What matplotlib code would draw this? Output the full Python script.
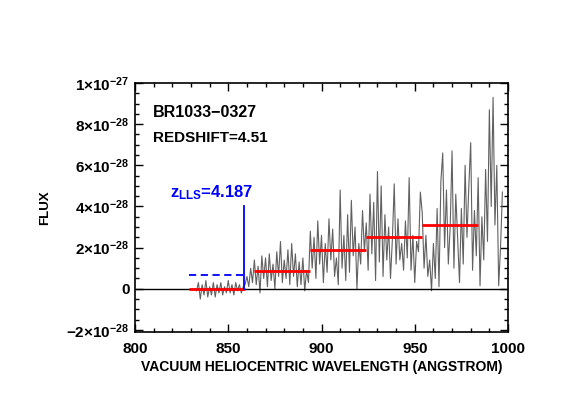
import numpy as np
import matplotlib
matplotlib.use("Agg")
import matplotlib.pyplot as plt
from matplotlib.ticker import MultipleLocator, FixedLocator

plt.rcParams['font.family'] = ['Liberation Sans', 'DejaVu Sans']
plt.rcParams['font.weight'] = 'bold'
plt.rcParams['mathtext.fontset'] = 'custom'
plt.rcParams['mathtext.rm'] = 'Liberation Sans:bold'
plt.rcParams['mathtext.bf'] = 'Liberation Sans:bold'
plt.rcParams['mathtext.default'] = 'bf'

# Spectrum (wavelength in Angstrom, flux in units of 1e-28)
wave_start = 833
flux_e28 = [
    -0.1, 0.3, -0.5, 0.2, -0.3, 0.4, -0.4, 0.1, -0.3, 0.3,      # 833-842
    -0.4, 0.2, -0.2, 0.3, -0.3, 0.1, -0.2, 0.4, -0.2, 0.2,      # 843-852
    -0.3, 0.3, -0.1, 0.2, -0.2, 0.1,                            # 853-858
    0.2, 0.6, 0.1, 1.0, 0.3, 1.4, 0.2, 1.1, -0.2, 1.6,          # 859-868
    0.5, 1.5, 0.1, 1.7, 0.4, 1.2, 0.0, 1.8, 0.6, 2.3,           # 869-878
    0.3, 1.4, 0.5, 1.9, 0.2, 2.2, 0.6, 1.7, 0.1, 1.3,           # 879-888
    0.2, 1.5, -0.1, 0.9, 0.3, 2.8, 1.0, 2.5, 0.5, 3.3,          # 889-898
    1.2, 2.6, 0.3, 2.2, 0.8, 3.4, 1.4, 2.9, 0.6, 1.5,           # 899-908
    0.2, 4.8, 1.0, 2.6, 0.4, 3.6, 0.8, 4.3, 1.6, 3.0,           # 909-918
    0.0, 2.2, 1.2, 3.8, 1.8, 3.2, 0.9, 4.6, 1.7, 4.2,           # 919-928
    0.4, 5.7, 1.3, 5.0, 0.6, 3.6, 1.4, 3.0, 0.5, 2.4,           # 929-938
    5.1, 1.2, 3.4, 1.4, 2.2, 0.9, 3.3, 1.5, 5.4, 0.9,           # 939-948
    2.6, 0.3, 2.3, 1.8, 4.7, 3.7, 1.0, 2.6, 0.6, 1.4,           # 949-958
    -0.1, 2.2, 0.5, 3.9, 0.1, 5.2, 6.6, 2.0, 4.8, 1.2,          # 959-968
    3.0, 6.7, 1.0, 4.6, 2.4, 0.3, 3.9, 1.2, 6.0, 2.5,           # 969-978
    5.0, 7.1, 0.9, 3.8, 1.6, 5.4, 0.15, 3.5, 1.4, 5.8,          # 979-988
    2.3, 8.7, 4.0, 9.3, 3.1, 6.0, 0.15, 2.0, 4.7,               # 989-997
]

# Binned mean fluxes (red segments)
bin_lo = [829, 864, 894, 924, 954]
bin_hi = [859, 894, 924, 954, 984]
bin_mean_e28 = [0.0, 0.85, 1.9, 2.5, 3.1]

# Expected flux level (blue dashed) and LLS marker
dash_lo, dash_hi, dash_level_e28 = 829, 859, 0.65
lls_wave, lls_top_e28 = 858.6, 4.0

xticks = [800, 850, 900, 950, 1000]
yticks_e28 = [-2, 0, 2, 4, 6, 8, 10]
ytick_labels = ['\u22122\u00d710$^{-28}$', '0', '2\u00d710$^{-28}$', '4\u00d710$^{-28}$',
                '6\u00d710$^{-28}$', '8\u00d710$^{-28}$', '1\u00d710$^{-27}$']

S = 1e-28
wave = wave_start + np.arange(len(flux_e28))
flux = np.array(flux_e28) * S

fig = plt.figure(figsize=(5.64, 4.15), dpi=100)
ax = fig.add_axes([0.2394, 0.2, 0.6613, 0.6])

ax.plot(wave, flux, color='0.38', lw=0.8, zorder=2)
ax.axhline(0, color='black', lw=1.0, zorder=3)
for lo, hi, m in zip(bin_lo, bin_hi, bin_mean_e28):
    ax.plot([lo, hi], [m * S, m * S], color='red', lw=2.0, solid_capstyle='butt', zorder=4)
ax.plot([dash_lo, dash_hi], [dash_level_e28 * S] * 2, color='blue', lw=1.3,
        linestyle=(0, (4, 2.5)), zorder=4)
ax.plot([lls_wave, lls_wave], [0, lls_top_e28 * S], color='blue', lw=1.3, zorder=4)

ax.text(818.5, 4.44 * S, 'z$_{LLS}$=4.187', color='blue', fontsize=12,
        fontweight='bold', ha='left', va='baseline')
ax.text(809.7, 8.55 * S, 'BR1033\u22120327', fontsize=11.5, fontweight='bold', va='center')
ax.text(809.7, 7.35 * S, 'REDSHIFT=4.51', fontsize=11, fontweight='bold', va='center')

ax.set_xlim(800, 1000)
ax.set_ylim(-2.1 * S, 10 * S)
ax.xaxis.set_major_locator(FixedLocator(xticks))
ax.xaxis.set_minor_locator(MultipleLocator(10))
ax.yaxis.set_major_locator(FixedLocator([v * S for v in yticks_e28]))
ax.yaxis.set_minor_locator(MultipleLocator(0.5 * S))
ax.set_yticklabels(ytick_labels)
ax.set_xticklabels([str(v) for v in xticks])

ax.tick_params(which='both', direction='in', top=True, right=True, labelsize=11, width=1.0)
ax.tick_params(which='major', length=6)
ax.tick_params(which='minor', length=3)
ax.tick_params(axis='x', pad=7)
ax.tick_params(axis='y', pad=4)
for sp in ax.spines.values():
    sp.set_linewidth(1.2)

ax.set_xlabel('VACUUM HELIOCENTRIC WAVELENGTH (ANGSTROM)', fontsize=10, fontweight='bold', labelpad=3)
ax.set_ylabel('FLUX', fontsize=9.5, fontweight='bold')
ax.yaxis.set_label_coords(-0.225, 0.5)

fig.savefig('out.png', dpi=100)
